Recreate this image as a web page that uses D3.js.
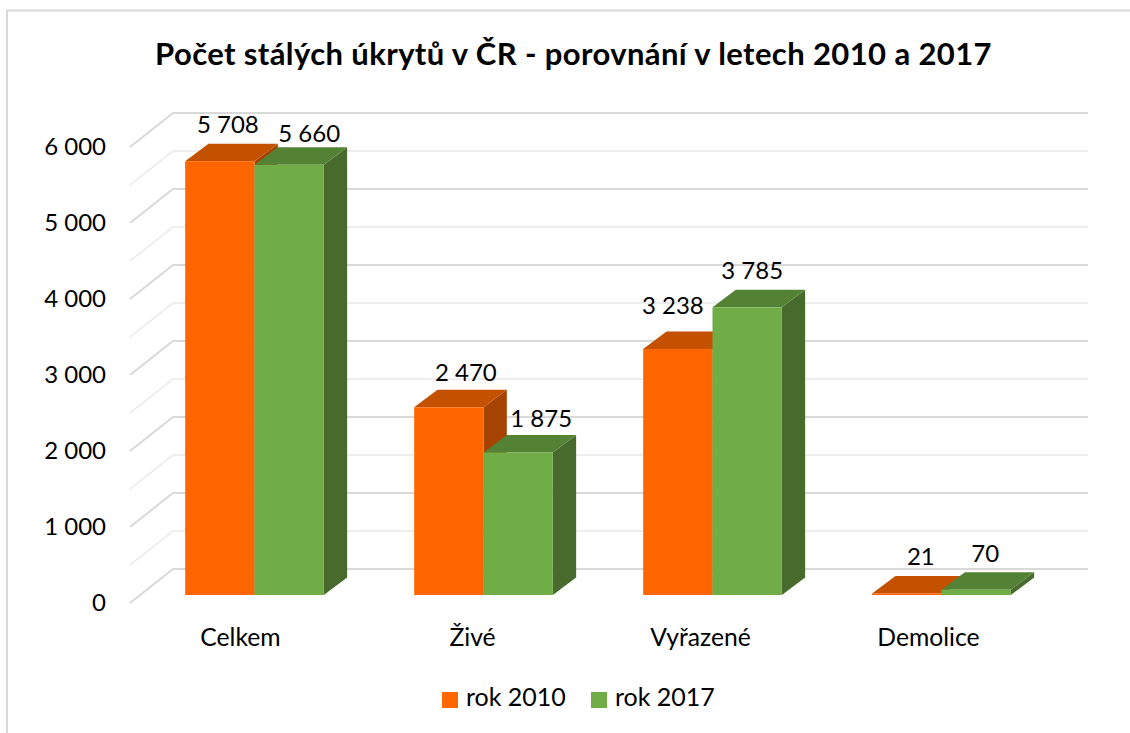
<!DOCTYPE html>
<html lang="cs">
<head>
<meta charset="utf-8">
<script src="https://d3js.org/d3.v7.min.js"></script>
<style>
    *{margin:0;padding:0}
    body{background:#fff;overflow:hidden}
    text{font-family:Lato,"Open Sans",sans-serif;fill:#000}
</style>
</head>
<body>
<script>
const categories=['Celkem','Živé','Vyřazené','Demolice'];
const seriesNames=['rok 2010','rok 2017'];
const rok2010=[5708,2470,3238,21];
const rok2017=[5660,1875,3785,70];
const yTicks=[0,1000,2000,3000,4000,5000,6000];
const gridStep=[0,500,1000,1500,2000,2500,3000,3500,4000,4500,5000,5500,6000];

const width=1130,height=733;
const colors=[
    {front:'#ff6600',top:'#c45100',side:'#a64300'},
    {front:'#70ad47',top:'#548235',side:'#486a2c'}
];
const fmt=d=>d3.format(',')(d).replace(/,/g,' ');

const svg=d3.select('body').append('svg').attr('width',width).attr('height',height);

// frame of the original picture
svg.append('path')
   .attr('d','M7 733V10.5H1130')
   .attr('fill','none').attr('stroke','#d9d9d9').attr('stroke-width',2);

svg.append('text')
   .attr('x',573.5).attr('y',65)
   .attr('text-anchor','middle')
   .attr('font-size',31).attr('font-weight',700)
   .style('letter-spacing','0.39px')
   .text('Počet stálých úkrytů v ČR - porovnání v letech 2010 a 2017');

// bars stand on y(0)=595, the side wall and back wall are shifted from that
const y=d3.scaleLinear().domain([0,6000]).range([595,139]);
const x0=d3.scaleBand().domain(categories).range([140,1056]).paddingInner(0.3944).paddingOuter(0.1972);
const x1=d3.scaleBand().domain(seriesNames).range([0,x0.bandwidth()]);

const wall={front:{x:130,dy:8},back:{x:173,dy:-26},right:1088};

const grid=svg.append('g');
gridStep.forEach(v=>{
    const major=v%1000===0;
    grid.append('path')
        .attr('d',`M${wall.front.x} ${y(v)+wall.front.dy}L${wall.back.x} ${y(v)+wall.back.dy}H${wall.right}`)
        .attr('fill','none')
        .attr('stroke',major?'#d9d9d9':'#eeeeee')
        .attr('stroke-width',2);
});

// y axis sits on the front edge of the side wall
const yAxis=svg.append('g')
   .attr('transform',`translate(106,${wall.front.dy})`)
   .call(d3.axisLeft(y).tickValues(yTicks).tickFormat(fmt).tickSize(0).tickPadding(0));
yAxis.select('.domain').remove();
yAxis.selectAll('text').attr('font-size',24).style('font-family','Lato,"Open Sans",sans-serif').attr('dy','0.32em');

const depth={dx:23.3,dy:17.5};
const bars=svg.append('g');
const series=[rok2010,rok2017];
categories.forEach((c,i)=>{
    series.forEach((vals,s)=>{
        const l=x0(c)+x1(seriesNames[s]);
        const r=l+x1.bandwidth();
        const t=y(vals[i]);
        const b=y(0);
        const g=bars.append('g');
        g.append('path').attr('fill',colors[s].side)
         .attr('d',`M${r} ${t}L${r+depth.dx} ${t-depth.dy}V${b-depth.dy}L${r} ${b}Z`);
        g.append('path').attr('fill',colors[s].top)
         .attr('d',`M${l} ${t}L${l+depth.dx} ${t-depth.dy}H${r+depth.dx}L${r} ${t}Z`);
        g.append('rect').attr('fill',colors[s].front)
         .attr('x',l).attr('y',t).attr('width',x1.bandwidth()).attr('height',b-t);
    });
});

// data labels were moved by hand in the original, so they need their own nudges
const nudge=[
    [[8,-37],[20,-31]],
    [[17,-35],[23,-34]],
    [[-5,-43],[5,-37]],
    [[14,-37],[9,-36]]
];
const labels=svg.append('g').attr('font-size',24).attr('text-anchor','middle');
categories.forEach((c,i)=>{
    series.forEach((vals,s)=>{
        labels.append('text')
              .attr('x',x0(c)+x1(seriesNames[s])+x1.bandwidth()/2+nudge[i][s][0])
              .attr('y',y(vals[i])+nudge[i][s][1])
              .attr('dy','0.35em')
              .text(fmt(vals[i]));
    });
});

svg.append('g').attr('font-size',24.7).attr('text-anchor','middle')
   .selectAll('text').data(categories).enter().append('text')
   .attr('x',(d,i)=>x0(d)+x0.bandwidth()/2+[-14,-11,-12,-13][i])
   .attr('y',646)
   .text(d=>d);

const legend=svg.append('g').attr('font-size',25);
const legendX=[442,591];
seriesNames.forEach((n,i)=>{
    legend.append('rect').attr('x',legendX[i]).attr('y',692).attr('width',16).attr('height',16).attr('fill',colors[i].front);
    legend.append('text').attr('x',legendX[i]+24).attr('y',706).text(n);
});
</script>
</body>
</html>
